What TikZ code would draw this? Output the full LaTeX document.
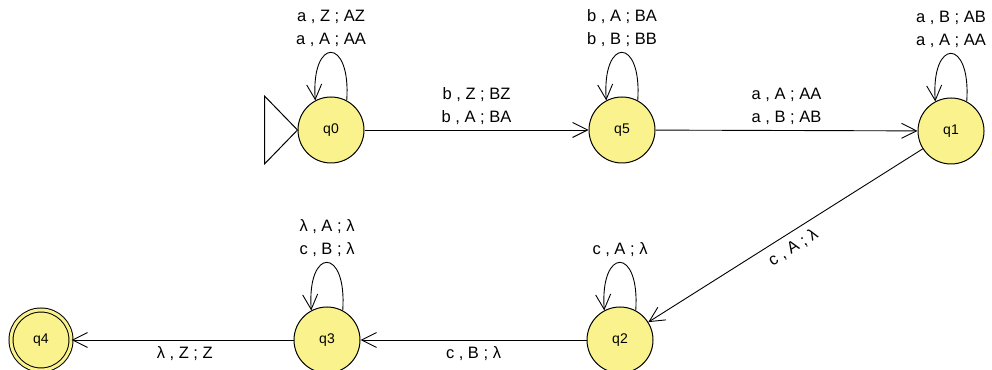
\documentclass[tikz,border=0pt]{standalone}
\usepackage{fontspec}
\setmainfont{Liberation Sans}
\usetikzlibrary{arrows.meta}
\definecolor{statefill}{RGB}{250,242,140}
\tikzset{
  state/.style={circle, draw=black, line width=1pt, fill=statefill,
    minimum size=66pt, inner sep=0pt, font=\fontsize{14}{16}\selectfont},
  accepting/.style={state, double=statefill, double distance=3pt, minimum size=60pt},
  arr/.style={line width=0.9pt, -{Straight Barb[length=15pt,width=15pt,line width=0.9pt]}},
  lbl/.style={font=\fontsize{16.5}{23}\selectfont, align=center, inner sep=2pt},
  selfloop/.style={arr}
}
\begin{document}
\begin{tikzpicture}[x=1pt, y=1pt]
  \useasboundingbox (0,0) rectangle (992,369);

  % states
  \node[state] (q0) at (331,239) {q0};
  \node[state] (q5) at (622,239) {q5};
  \node[state] (q1) at (951,238) {q1};
  \node[state] (q2) at (620,29) {q2};
  \node[state] (q3) at (327,29) {q3};
  \node[accepting] (q4) at (41,29) {q4};

  % start marker
  \draw[line width=1pt] (q0.west) -- ++(-33,-34) -- ++(0,68) -- cycle;

  % transitions between states
  \draw[arr] (q0) -- (q5) node[lbl, midway, above=3pt] {b , Z ; BZ\\b , A ; BA};
  \draw[arr] (q5) -- (q1) node[lbl, midway, above=3pt] {a , A ; AA\\a , B ; AB};
  \draw[arr] (q1) -- (q2) node[lbl, pos=0.5, sloped, below=5pt] {c , A ; λ};
  \draw[arr] (q2) -- (q3) node[lbl, midway, below=4pt] {c , B ; λ};
  \draw[arr] (q3) -- (q4) node[lbl, pos=0.49, below=4pt] {λ , Z ; Z};

  % self loops
  \draw[selfloop] (q0.62) .. controls +(86:64pt) and +(94:64pt) .. (q0.118)
    node[lbl, pos=0.5, above=3pt] {a , Z ; AZ\\a , A ; AA};
  \draw[selfloop] (q5.62) .. controls +(86:64pt) and +(94:64pt) .. (q5.118)
    node[lbl, pos=0.5, above=3pt] {b , A ; BA\\b , B ; BB};
  \draw[selfloop] (q1.62) .. controls +(86:64pt) and +(94:64pt) .. (q1.118)
    node[lbl, pos=0.5, above=3pt] {a , B ; AB\\a , A ; AA};
  \draw[selfloop] (q2.62) .. controls +(86:64pt) and +(94:64pt) .. (q2.118)
    node[lbl, pos=0.5, above=3pt] {c , A ; λ};
  \draw[selfloop] (q3.62) .. controls +(86:64pt) and +(94:64pt) .. (q3.118)
    node[lbl, pos=0.5, above=3pt] {λ , A ; λ\\c , B ; λ};
\end{tikzpicture}
\end{document}
